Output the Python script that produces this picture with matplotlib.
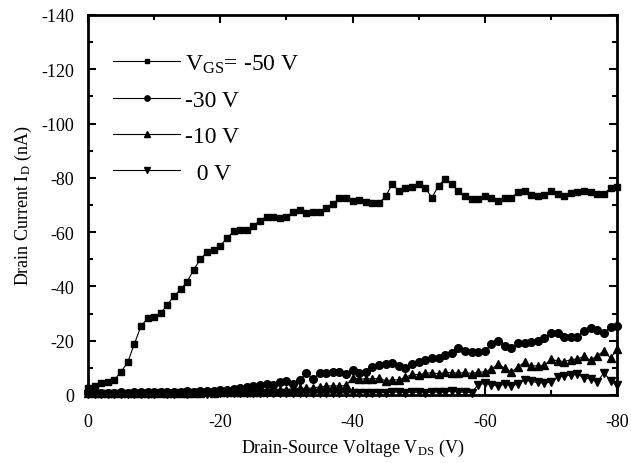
import matplotlib
matplotlib.use("Agg")
import matplotlib.pyplot as plt
from matplotlib.ticker import MultipleLocator
import numpy as np

plt.rcParams['font.family'] = ['Liberation Serif', 'DejaVu Serif']
plt.rcParams['mathtext.fontset'] = 'custom'
plt.rcParams['mathtext.rm'] = 'Liberation Serif'
plt.rcParams['mathtext.it'] = 'Liberation Serif:italic'
plt.rcParams['axes.unicode_minus'] = False

# drain-source voltage, 0 .. -80 V in 1 V steps
vds = -np.arange(0, 81)

# drain current (nA) for each gate voltage
id_m50 = [-2.5, -3.4, -4.3, -4.7, -5.6, -8.6, -12.0, -18.8, -25.3, -28.2,
          -28.6, -30.2, -33.3, -36.4, -38.9, -41.8, -46.2, -50.1, -52.6, -53.4,
          -55.0, -57.7, -60.3, -60.8, -60.8, -62.4, -64.2, -65.7, -65.7, -65.1,
          -65.7, -67.5, -68.2, -66.9, -67.5, -67.5, -68.8, -70.4, -72.5, -72.5,
          -71.4, -71.8, -71.2, -70.7, -70.7, -73.2, -77.7, -75.2, -76.2, -76.8,
          -77.7, -76.2, -72.7, -77.1, -79.6, -77.6, -75.0, -73.2, -72.2, -72.2,
          -73.2, -72.6, -71.6, -72.6, -72.6, -74.7, -75.0, -73.7, -73.2, -73.7,
          -75.0, -74.1, -73.2, -74.3, -74.7, -75.0, -74.7, -74.1, -74.1, -76.2,
          -76.5]

id_m30 = [-0.8, -0.8, -0.9, -0.8, -0.9, -1.0, -0.9, -1.0, -1.0, -1.1,
          -1.0, -1.1, -1.2, -1.1, -1.2, -1.3, -1.2, -1.4, -1.5, -1.5,
          -1.8, -2.0, -2.2, -2.5, -3.0, -3.3, -3.5, -3.9, -3.7, -4.7,
          -5.0, -4.0, -5.4, -8.1, -5.8, -8.1, -8.1, -8.5, -8.3, -7.7,
          -9.2, -8.1, -8.6, -10.3, -11.0, -11.4, -11.6, -10.6, -10.0, -11.3,
          -12.0, -12.8, -13.6, -13.5, -14.7, -15.5, -17.3, -16.1, -15.8, -15.8,
          -16.1, -18.8, -20.0, -17.9, -17.3, -19.2, -19.2, -19.5, -19.8, -21.0,
          -22.8, -22.8, -21.2, -21.2, -21.5, -23.7, -24.6, -24.0, -23.0, -24.9,
          -25.5]

id_m10 = [-0.6, -0.6, -0.6, -0.7, -0.6, -0.7, -0.7, -0.7, -0.8, -0.7,
          -0.8, -0.8, -0.8, -0.9, -0.8, -0.9, -0.9, -0.9, -1.0, -0.9,
          -1.0, -1.0, -1.0, -1.1, -1.0, -1.1, -1.2, -1.4, -1.5, -1.7,
          -2.0, -2.2, -2.4, -2.5, -2.5, -3.0, -3.2, -3.4, -3.3, -3.5,
          -6.3, -5.9, -5.9, -5.9, -6.1, -5.3, -5.5, -5.6, -6.5, -7.6,
          -7.5, -8.0, -8.2, -7.8, -8.3, -8.2, -8.0, -8.3, -7.9, -8.4,
          -8.5, -9.6, -11.3, -9.9, -8.4, -10.4, -12.0, -10.6, -10.8, -11.0,
          -13.1, -12.6, -12.3, -13.0, -13.3, -14.2, -12.8, -14.5, -16.2, -13.6,
          -17.0]

id_0 = [-0.4, -0.4, -0.5, -0.4, -0.5, -0.5, -0.4, -0.5, -0.5, -0.5,
        -0.5, -0.6, -0.5, -0.5, -0.6, -0.5, -0.6, -0.6, -0.5, -0.6,
        -0.6, -0.6, -0.7, -0.6, -0.6, -0.7, -0.6, -0.7, -0.7, -0.6,
        -0.7, -0.7, -0.8, -0.7, -0.7, -0.8, -0.7, -0.8, -0.8, -0.8,
        -0.8, -0.9, -0.8, -0.8, -0.9, -0.9, -1.2, -1.0, -0.9, -1.0,
        -1.0, -0.9, -1.0, -1.1, -1.0, -1.5, -1.1, -1.0, -0.9, -3.8,
        -4.3, -3.8, -3.3, -4.0, -3.4, -4.0, -5.6, -5.0, -4.6, -4.3,
        -4.8, -6.5, -7.0, -7.3, -7.6, -6.3, -5.9, -4.7, -8.2, -5.3,
        -3.5]

series = [
    (id_m50, 's', 5.0, 'V$_{\\rm GS}$= -50 V'),
    (id_m30, 'o', 5.5, '-30 V'),
    (id_m10, '^', 5.5, '-10 V'),
    (id_0, 'v', 5.5, '  0 V'),
]

fig = plt.figure(figsize=(6.31, 4.64), dpi=100)
ax = fig.add_axes([0.1395, 0.1466, 0.8385, 0.819])

for ys, mk, ms, lab in series:
    ax.plot(vds, ys, color='black', lw=0.8, marker=mk, ms=ms,
            label=lab, clip_on=False)

ax.set_xlim(0, -80)
ax.set_ylim(0, -140)
ax.xaxis.set_major_locator(MultipleLocator(20))
ax.xaxis.set_minor_locator(MultipleLocator(10))
ax.yaxis.set_major_locator(MultipleLocator(20))
ax.yaxis.set_minor_locator(MultipleLocator(10))
ax.tick_params(which='both', direction='in', top=True, right=True,
               labelsize=13, width=1.5)
ax.tick_params(which='major', length=6)
ax.tick_params(which='minor', length=3.5)
ax.tick_params(axis='x', which='major', pad=13)
ax.tick_params(axis='y', which='major', pad=10)
for sp in ax.spines.values():
    sp.set_linewidth(2)

ax.set_xlabel('Drain-Source Voltage V$_{\\rm DS}$ (V)', fontsize=13, labelpad=5)
ax.set_ylabel('Drain Current I$_{\\rm D}$ (nA)', fontsize=13, labelpad=5)

leg = ax.legend(loc='upper left', bbox_to_anchor=(0.047, 0.902),
                frameon=False, fontsize=17, handlelength=2.85,
                handletextpad=0.2, labelspacing=0.63, borderpad=0,
                borderaxespad=0, markerscale=0.7)

fig.savefig('out.png', dpi=100)
